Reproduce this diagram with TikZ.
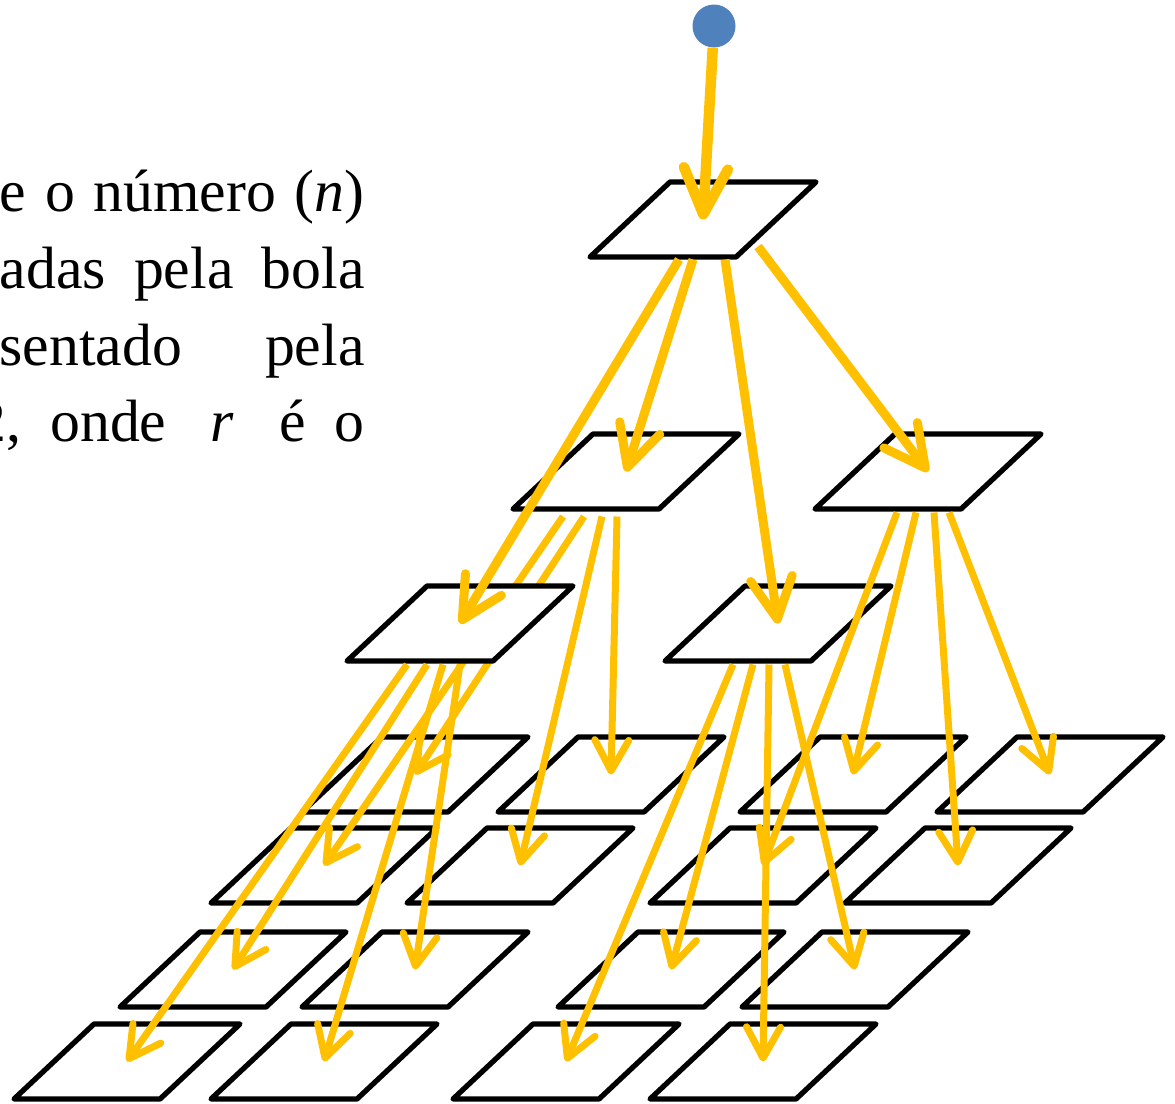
\documentclass[tikz,border=0pt]{standalone}
\usepackage{fontspec}
\setmainfont{Liberation Serif}
\usepackage{tikz}
\usetikzlibrary{arrows.meta, calc}

\definecolor{rayyellow}{HTML}{FFC000}
\definecolor{ballblue}{HTML}{4F81BD}

% one floor tile: name, bottom-left x, bottom y
\newcommand{\plate}[3]{%
    \draw[plate] (#2,#3) -- ++(146,0) -- ++(80,-75) -- ++(-146,0) -- cycle;
    \coordinate (#1) at (#2+113,#3-37.5);}

\begin{document}
\begin{tikzpicture}[
        x=0.02cm, y=-0.02cm,
        plate/.style={draw=black, fill=white, line width=3pt, line join=round},
        ray/.style={draw=rayyellow, line width=0.14cm, -{Straight Barb[length=0.62cm, width=0.68cm, round]}},
        bigray/.style={ray, line width=0.18cm, -{Straight Barb[length=0.82cm, width=0.84cm, round]}},
        drop/.style={ray, line width=0.21cm, -{Straight Barb[length=0.92cm, width=0.88cm, round]}},
        txt/.style={anchor=base east, inner sep=0pt, font=\fontsize{34}{40}\selectfont}
    ]
        \useasboundingbox (0,0) rectangle (1175,1103);

        % Text
        \node[txt] (line1) at (365,211) {\makebox[7.3cm][s]{e o número (\textit{n})}};
        \node[txt] (line2) at (365,288) {\makebox[7.3cm][s]{adas pela bola}};
        \node[txt] (line3) at (365,365) {\makebox[7.3cm][s]{sentado pela}};
        \node[txt] (line4a) at (22,441) {2,};
        \node[txt, anchor=base west] (line4b) at (50,441) {onde};
        \node[txt, anchor=base west] (line4c) at (210,441) {\textit{r}};
        \node[txt] (line4d) at (365,441) {\makebox[1.7cm][s]{é o}};

        % Upper tiles
        \plate{p0}{590}{257}
        \plate{p1}{513}{509}
        \plate{p2}{815}{509}

        % Floor tiles
        \plate{a1}{302}{812} \plate{a2}{498}{812} \plate{a3}{740}{812} \plate{a4}{937}{812}
        \plate{b1}{211}{903} \plate{b2}{407}{903} \plate{b3}{650}{903} \plate{b4}{845}{903}
        \plate{c1}{120}{1007} \plate{c2}{302}{1007} \plate{c3}{558}{1007} \plate{c4}{742}{1007}
        \plate{d1}{14}{1099} \plate{d2}{211}{1099} \plate{d3}{453}{1099} \plate{d4}{650}{1099}

        % Rays of p1 (partly hidden by p3)
        \draw[ray] ([shift={(-63,45)}]p1) -- (b1);
        \draw[ray] ([shift={(-42,45)}]p1) -- (a1);
        \draw[ray] ([shift={(-24,45)}]p1) -- (b2);
        \draw[ray] ([shift={(-9,45)}]p1) -- (a2);

        % Middle tiles
        \plate{p3}{347}{661}
        \plate{p4}{665}{661}

        % Ball
        \node[circle, fill=ballblue, minimum size=0.86cm, inner sep=0pt] (ball) at (714,26) {};
        \draw[drop] (ball) -- (p0);

        % Rays of p0
        \draw[bigray] ([shift={(-24,40)}]p0) -- (p3);
        \draw[bigray] ([shift={(-10,40)}]p0) -- (p1);
        \draw[bigray] ([shift={(22,40)}]p0) -- (p4);
        \draw[bigray] ([shift={(55,27)}]p0) -- (p2);

        % Rays of p2
        \draw[ray] ([shift={(-31,41)}]p2) -- (b3);
        \draw[ray] ([shift={(-12,41)}]p2) -- (a3);
        \draw[ray] ([shift={(6,41)}]p2) -- (b4);
        \draw[ray] ([shift={(21,41)}]p2) -- (a4);

        % Rays of p3
        \draw[ray] ([shift={(-53,41)}]p3) -- (d1);
        \draw[ray] ([shift={(-33,41)}]p3) -- (c1);
        \draw[ray] ([shift={(-17,41)}]p3) -- (d2);
        \draw[ray] ([shift={(0,41)}]p3) -- (c2);

        % Rays of p4
        \draw[ray] ([shift={(-45,41)}]p4) -- (d3);
        \draw[ray] ([shift={(-25,41)}]p4) -- (c3);
        \draw[ray] ([shift={(-9,41)}]p4) -- (d4);
        \draw[ray] ([shift={(7,41)}]p4) -- (c4);
    \end{tikzpicture}
\end{document}
